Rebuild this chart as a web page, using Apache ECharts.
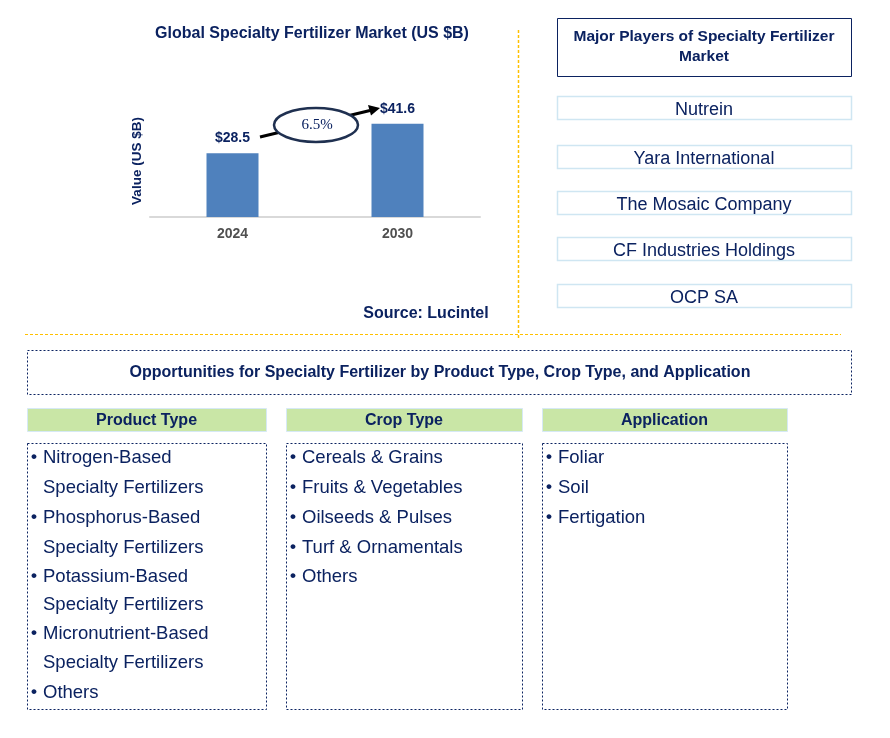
<!DOCTYPE html>
<html>
<head>
<meta charset="utf-8">
<script src="https://cdn.jsdelivr.net/npm/echarts@6/dist/echarts.min.js"></script>
<style>
html,body{margin:0;padding:0;background:#fff;}
#main{width:890px;height:738px;}
</style>
</head>
<body>
<div id="main"></div>
<script>
var categories = ['2024', '2030'];
var marketValues = [28.5, 41.6];
var valueLabels = ['$28.5', '$41.6'];
var cagrText = '6.5%';
var chartTitle = 'Global Specialty Fertilizer Market (US $B)';
var yAxisName = 'Value (US $B)';
var sourceText = 'Source: Lucintel';
var playersTitle = ['Major Players of Specialty Fertilizer', 'Market'];
var players = ['Nutrein', 'Yara International', 'The Mosaic Company', 'CF Industries Holdings', 'OCP SA'];
var opportunitiesTitle = 'Opportunities for Specialty Fertilizer by Product Type, Crop Type, and Application';
var segmentHeaders = ['Product Type', 'Crop Type', 'Application'];
var productTypes = [['Nitrogen-Based', 'Specialty Fertilizers'], ['Phosphorus-Based', 'Specialty Fertilizers'], ['Potassium-Based', 'Specialty Fertilizers'], ['Micronutrient-Based', 'Specialty Fertilizers'], ['Others']];
var cropTypes = [['Cereals & Grains'], ['Fruits & Vegetables'], ['Oilseeds & Pulses'], ['Turf & Ornamentals'], ['Others']];
var applications = [['Foliar'], ['Soil'], ['Fertigation']];

var NAVY = '#0B2260';
var FONT = 'Liberation Sans, Arial, sans-serif';

var chart = echarts.init(document.getElementById('main'), null, {renderer: 'canvas'});

var graphics = [];

// separators
graphics.push({type: 'line', shape: {x1: 518.5, y1: 30, x2: 518.5, y2: 340}, style: {stroke: '#FFC000', lineWidth: 1.5, lineDash: [3, 2]}});
graphics.push({type: 'line', shape: {x1: 25, y1: 334.5, x2: 841, y2: 334.5}, style: {stroke: '#FFC000', lineWidth: 1, lineDash: [3, 2]}});

// CAGR arrow + ellipse
graphics.push({type: 'line', shape: {x1: 260, y1: 137, x2: 370, y2: 110.5}, style: {stroke: '#000', lineWidth: 3}, z: 10});
graphics.push({type: 'polygon', shape: {points: [[380, 108], [368, 105], [371, 115.5]]}, style: {fill: '#000'}, z: 10});
graphics.push({type: 'ellipse', shape: {cx: 316, cy: 125, rx: 42, ry: 17}, style: {fill: '#fff', stroke: '#1F3050', lineWidth: 2.5}, z: 11});
graphics.push({type: 'text', x: 317, y: 125, style: {text: cagrText, font: '15px Liberation Serif, Times New Roman, serif', fill: NAVY, align: 'center', verticalAlign: 'middle'}, z: 12});

// source
graphics.push({type: 'text', x: 426, y: 314, style: {text: sourceText, font: 'bold 16px ' + FONT, fill: NAVY, align: 'center', verticalAlign: 'middle'}});

// players title box
graphics.push({type: 'rect', shape: {x: 557.5, y: 18.5, width: 294, height: 58}, style: {fill: '#fff', stroke: NAVY, lineWidth: 1}});
graphics.push({type: 'text', x: 704, y: 37, style: {text: playersTitle[0], font: 'bold 15.5px ' + FONT, fill: NAVY, align: 'center', verticalAlign: 'middle'}});
graphics.push({type: 'text', x: 704, y: 57, style: {text: playersTitle[1], font: 'bold 15.5px ' + FONT, fill: NAVY, align: 'center', verticalAlign: 'middle'}});

var playerTops = [96, 145, 191, 237, 284];
players.forEach(function (p, i) {
  graphics.push({type: 'rect', shape: {x: 557.5, y: playerTops[i] + 0.5, width: 294, height: 23}, style: {fill: '#fff', stroke: '#CFE6F2', lineWidth: 1.5}});
  graphics.push({type: 'text', x: 704, y: playerTops[i] + 14, style: {text: p, font: '18px ' + FONT, fill: NAVY, align: 'center', verticalAlign: 'middle'}});
});

// opportunities box
graphics.push({type: 'rect', shape: {x: 27.5, y: 350.5, width: 824, height: 44}, style: {fill: 'none', stroke: NAVY, lineWidth: 1, lineDash: [2, 2]}});
graphics.push({type: 'text', x: 440, y: 373, style: {text: opportunitiesTitle, font: 'bold 16px ' + FONT, fill: NAVY, align: 'center', verticalAlign: 'middle'}});

var cols = [{x: 27, w: 239, items: productTypes}, {x: 286, w: 236, items: cropTypes}, {x: 542, w: 245, items: applications}];
var lineYs = [457, 487, 517, 547, 576, 604, 633, 662, 692];
cols.forEach(function (c, ci) {
  graphics.push({type: 'rect', shape: {x: c.x + 0.5, y: 408.5, width: c.w, height: 23}, style: {fill: '#C9E6A6', stroke: '#D6E9F5', lineWidth: 1}});
  graphics.push({type: 'text', x: c.x + c.w / 2, y: 420.5, style: {text: segmentHeaders[ci], font: 'bold 16px ' + FONT, fill: NAVY, align: 'center', verticalAlign: 'middle'}});
  graphics.push({type: 'rect', shape: {x: c.x + 0.5, y: 443.5, width: c.w, height: 266}, style: {fill: 'none', stroke: NAVY, lineWidth: 1, lineDash: [2, 2]}});
  var li = 0;
  c.items.forEach(function (item) {
    item.forEach(function (line, k) {
      if (k === 0) {
        graphics.push({type: 'text', x: c.x + 4, y: lineYs[li], style: {text: '\u2022', font: 'bold 17px ' + FONT, fill: NAVY, align: 'left', verticalAlign: 'middle'}});
      }
      graphics.push({type: 'text', x: c.x + 16, y: lineYs[li] + 1, style: {text: line, font: '18.5px ' + FONT, fill: NAVY, align: 'left', verticalAlign: 'middle'}});
      li++;
    });
  });
});

var option = {
  backgroundColor: '#fff',
  animation: false,
  title: {
    text: chartTitle,
    left: 307,
    textAlign: 'center',
    top: 21,
    textStyle: {fontFamily: FONT, fontSize: 16, fontWeight: 'bold', color: NAVY}
  },
  grid: {left: 150, width: 330, top: 105, height: 112},
  xAxis: {
    type: 'category',
    data: categories,
    axisLine: {lineStyle: {color: '#D9D9D9', width: 2}},
    axisTick: {show: false},
    axisLabel: {fontFamily: FONT, fontSize: 14, fontWeight: 'bold', color: '#505050', margin: 10}
  },
  yAxis: {
    type: 'value',
    min: 0,
    max: 50,
    name: yAxisName,
    nameLocation: 'middle',
    nameGap: 6,
    nameTextStyle: {fontFamily: FONT, fontSize: 13.5, fontWeight: 'bold', color: NAVY},
    axisLine: {show: false},
    axisTick: {show: false},
    axisLabel: {show: false},
    splitLine: {show: false}
  },
  series: [{
    type: 'bar',
    data: marketValues,
    barWidth: 52,
    itemStyle: {color: '#4F81BD'},
    label: {
      show: true,
      position: 'top',
      distance: 8,
      formatter: function (p) { return valueLabels[p.dataIndex]; },
      fontFamily: FONT, fontSize: 14, fontWeight: 'bold', color: NAVY
    }
  }],
  graphic: graphics
};
chart.setOption(option);
</script>
</body>
</html>
